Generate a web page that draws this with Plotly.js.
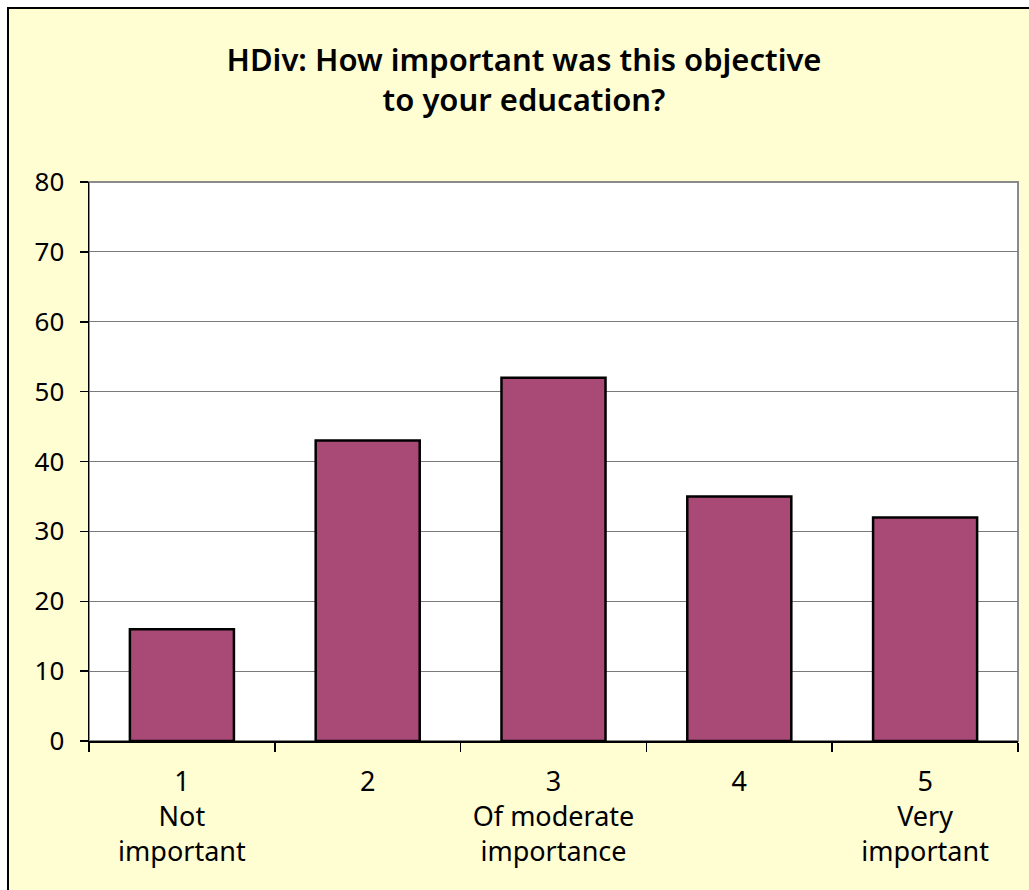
<!DOCTYPE html>
<html>
<head>
<meta charset="utf-8">
<script src="https://cdn.plot.ly/plotly-3.0.1.min.js"></script>
<style>
  html, body { margin: 0; padding: 0; background: #ffffff; overflow: hidden; }
  #wrap { position: absolute; left: 7px; top: 7px; width: 1030px; height: 890px;
          border-left: 2px solid #000; border-top: 2px solid #000; background: #FFFDD2; }
  #chart { width: 1030px; height: 890px; }
</style>
</head>
<body>
<div id="wrap"><div id="chart"></div></div>
<script>
const categories = ["1<br>Not<br>important", "2", "3<br>Of moderate<br>importance", "4", "5<br>Very<br>important"];
const values = [16, 43, 52, 35, 32];
const titleText = "HDiv: How important was this objective<br>to your education?";
const yTicks = [0, 10, 20, 30, 40, 50, 60, 70, 80];

const FONT = "Noto Sans, DejaVu Sans, sans-serif";

const trace = {
  type: "bar",
  x: categories,
  y: values,
  marker: { color: "#A84A75", line: { color: "#000000", width: 2.5 } },
  hoverinfo: "none"
};

const layout = {
  width: 1030,
  height: 890,
  paper_bgcolor: "#FFFDD2",
  plot_bgcolor: "#FFFFFF",
  margin: { l: 80, r: 21, t: 173, b: 158 },
  showlegend: false,
  bargap: 0.44,
  font: { family: FONT, size: 26, color: "#000000" },
  title: {
    text: titleText,
    font: { family: FONT, size: 31, color: "#000000", weight: 600 },
    x: 0.5, xref: "container", xanchor: "center",
    y: 1 - 62 / 890, yref: "container", yanchor: "top"
  },
  xaxis: {
    type: "category",
    tickson: "boundaries",
    ticks: "outside",
    ticklen: 9,
    tickwidth: 1.5,
    tickcolor: "#000000",
    showline: true,
    linecolor: "#000000",
    linewidth: 1.5,
    showgrid: false,
    ticklabelstandoff: 16,
    tickfont: { family: FONT, size: 27, color: "#000000" },
    fixedrange: true
  },
  yaxis: {
    range: [0, 80],
    tickvals: yTicks,
    ticktext: yTicks.map(String),
    ticks: "outside",
    ticklen: 8,
    tickwidth: 1.5,
    tickcolor: "#000000",
    showline: true,
    linecolor: "#000000",
    linewidth: 1.5,
    showgrid: true,
    gridcolor: "#7a7a7a",
    gridwidth: 1,
    zeroline: false,
    ticklabelstandoff: 10,
    tickfont: { family: FONT, size: 26, color: "#000000" },
    fixedrange: true
  },
  shapes: [{
    type: "rect", xref: "paper", yref: "paper", x0: 0, x1: 1, y0: 0, y1: 1,
    line: { color: "#8a8a8a", width: 2 }, layer: "below"
  }]
};

Plotly.newPlot("chart", [trace], layout, { displayModeBar: false, staticPlot: true });
</script>
</body>
</html>
